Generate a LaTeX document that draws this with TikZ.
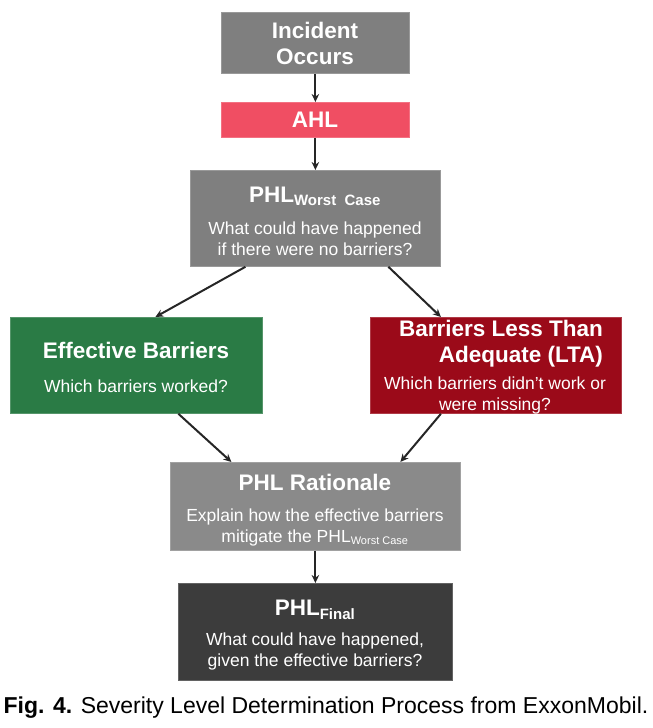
\documentclass[tikz,border=0pt]{standalone}
\usepackage{fontspec}
\setmainfont{Liberation Sans}
\usetikzlibrary{arrows.meta}
\definecolor{boxgray}{HTML}{7F7F7F}
\definecolor{ratgray}{HTML}{8A8A8A}
\definecolor{ahlred}{HTML}{F04E63}
\definecolor{effgreen}{HTML}{2A7B45}
\definecolor{ltared}{HTML}{9B0A19}
\definecolor{finaldark}{HTML}{3C3C3C}
\begin{document}
\begin{tikzpicture}[x=1pt,y=-1pt,
  box/.style={draw=#1!80!white, line width=0.8pt, fill=#1, text=white, align=center, inner sep=0pt, anchor=north west},
  conn/.style={-{Stealth[length=8pt,width=7.5pt]}, line width=2pt, draw=black!85},
  ttl/.style={text=white, align=center, font=\bfseries\fontsize{22.5}{26}\selectfont},
  sub/.style={text=white, align=center, font=\fontsize{17.5}{21}\selectfont}
]
\useasboundingbox (0,0) rectangle (653,728);
\node[box=boxgray, minimum width=188pt, minimum height=61pt] (inc) at (221,12) {};
\node[ttl] (incT) at (315,43) {Incident\\Occurs};
\node[box=ahlred, minimum width=188pt, minimum height=35pt] (ahl) at (221,102) {};
\node[ttl] (ahlT) at (315,120) {AHL};
\node[box=boxgray, minimum width=250pt, minimum height=96pt] (worst) at (190,170) {};
\node[ttl] (worstT) at (315,196) {PHL\textsubscript{\fontsize{15}{16}\selectfont Worst\ \ Case}};
\node[sub] (worstS) at (315,239) {What could have happened\\if there were no barriers?};

\node[box=effgreen, minimum width=252pt, minimum height=96pt] (eff) at (10,317) {};
\node[ttl] (effT) at (136,350) {Effective Barriers};
\node[sub] (effS) at (136,386) {Which barriers worked?};

\node[box=ltared, minimum width=251pt, minimum height=96pt] (lta) at (370,317) {};
\node[ttl, align=right] (ltaT) at (501,344) {Barriers Less Than\\Adequate (LTA)};
\node[sub] (ltaS) at (495,395) {Which barriers didn't work or\\were missing?};

\node[box=ratgray, minimum width=290pt, minimum height=88pt] (rat) at (170,462) {};
\node[ttl] (ratT) at (315,482) {PHL Rationale};
\node[sub] (ratS) at (315,527) {Explain how the effective barriers\\mitigate the PHL\textsubscript{\fontsize{11}{12}\selectfont Worst Case}};

\node[box=finaldark, minimum width=274pt, minimum height=97pt] (fin) at (178,583) {};
\node[ttl] (finT) at (315,610) {PHL\textsubscript{\fontsize{15}{16}\selectfont Final}};
\node[sub] (finS) at (315,651) {What could have happened,\\given the effective barriers?};

\node[font=\fontsize{23}{25}\selectfont, anchor=center] (cap) at (326,708) {\textbf{Fig. 4.} Severity Level Determination Process from ExxonMobil.};

\draw[conn] (inc.south) -- (ahl.north);
\draw[conn] (ahl.south) -- (worst.north);
\draw[conn] ([xshift=-70pt]worst.south) -- ([xshift=19pt]eff.north);
\draw[conn] ([xshift=73pt]worst.south) -- ([xshift=-55pt]lta.north);
\draw[conn] ([xshift=42pt]eff.south) -- ([xshift=-84pt]rat.north);
\draw[conn] ([xshift=-55pt]lta.south) -- ([xshift=85pt]rat.north);
\draw[conn] (rat.south) -- (fin.north);
\end{tikzpicture}
\end{document}
